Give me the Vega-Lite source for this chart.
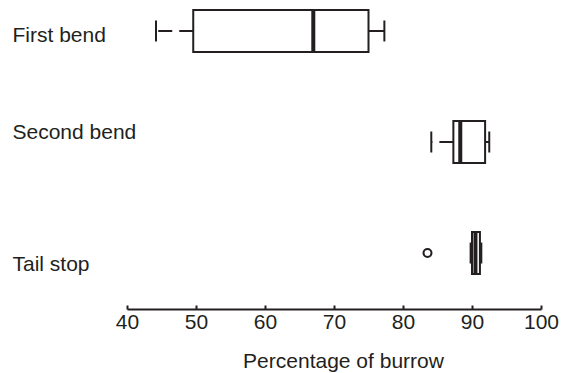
{
  "$schema": "https://vega.github.io/schema/vega-lite/v6.json",
  "width": 414,
  "height": 284,
  "autosize": {"type": "none"},
  "padding": {"left": 127, "top": 0, "right": 28, "bottom": 89},
  "background": "white",
  "config": {"view": {"stroke": null}, "font": "Liberation Sans"},
  "datasets": {
    "boxes": [
      {"group": "First bend", "min": 44.2, "q1": 49.6, "median": 67.0, "q3": 75.0, "max": 77.3},
      {"group": "Second bend", "min": 84.1, "q1": 87.3, "median": 88.3, "q3": 91.9, "max": 92.5},
      {"group": "Tail stop", "min": 89.8, "q1": 90.0, "median": 90.5, "q3": 91.15, "max": 91.35}
    ],
    "outliers": [
      {"group": "Tail stop", "value": 83.55}
    ]
  },
  "encoding": {
    "y": {
      "field": "group",
      "type": "nominal",
      "title": null,
      "scale": {"type": "point", "padding": 0.279, "domain": ["First bend", "Second bend", "Tail stop"]},
      "axis": {
        "domain": false,
        "ticks": false,
        "labelAlign": "left",
        "labelBaseline": "middle",
        "labelPadding": 115,
        "labelFontSize": 21,
        "labelColor": "#231f20",
        "labelLimit": 300,
        "labelOffset": {
          "condition": [
            {"test": "datum.value === 'Second bend'", "value": -10},
            {"test": "datum.value === 'Tail stop'", "value": 11}
          ],
          "value": 5
        }
      }
    }
  },
  "layer": [
    {
      "data": {"name": "boxes"},
      "mark": {"type": "rule", "color": "#231f20", "strokeWidth": 2, "strokeDash": [14, 7], "opacity": 1},
      "encoding": {
        "x": {
          "field": "q1",
          "type": "quantitative",
          "scale": {"domain": [40, 100], "nice": false, "zero": false},
          "axis": {
            "values": [40, 50, 60, 70, 80, 90, 100],
            "offset": 25,
            "domainColor": "#231f20",
            "domainWidth": 2,
            "tickColor": "#231f20",
            "tickWidth": 2,
            "tickSize": -4,
            "labelPadding": 6,
            "labelFontSize": 21,
            "labelColor": "#231f20",
            "labelFlush": false,
            "grid": false,
            "title": "Percentage of burrow",
            "titleFontSize": 21,
            "titleFontWeight": "normal",
            "titleColor": "#231f20",
            "titlePadding": 18,
            "titleX": 216,
            "titleAlign": "center"
          }
        },
        "x2": {"field": "min"}
      }
    },
    {
      "data": {"name": "boxes"},
      "mark": {"type": "rule", "color": "#231f20", "strokeWidth": 2, "opacity": 1},
      "encoding": {
        "x": {"field": "q3", "type": "quantitative"},
        "x2": {"field": "max"}
      }
    },
    {
      "data": {"name": "boxes"},
      "mark": {"type": "tick", "color": "#231f20", "size": 21, "thickness": 2, "orient": "vertical", "opacity": 1},
      "encoding": {
        "x": {"field": "min", "type": "quantitative"}
      }
    },
    {
      "data": {"name": "boxes"},
      "mark": {"type": "tick", "color": "#231f20", "size": 21, "thickness": 2, "orient": "vertical", "opacity": 1},
      "encoding": {
        "x": {"field": "max", "type": "quantitative"}
      }
    },
    {
      "data": {"name": "boxes"},
      "mark": {"type": "bar", "size": 42, "fill": "white", "stroke": "#231f20", "strokeWidth": 2, "opacity": 1},
      "encoding": {
        "x": {"field": "q1", "type": "quantitative"},
        "x2": {"field": "q3"}
      }
    },
    {
      "data": {"name": "boxes"},
      "mark": {"type": "tick", "color": "#231f20", "size": 42, "thickness": 4, "orient": "vertical", "opacity": 1},
      "encoding": {
        "x": {"field": "median", "type": "quantitative"}
      }
    },
    {
      "data": {"name": "outliers"},
      "mark": {"type": "point", "shape": "circle", "filled": false, "stroke": "#231f20", "strokeWidth": 2, "size": 64, "opacity": 1},
      "encoding": {
        "x": {"field": "value", "type": "quantitative"}
      }
    }
  ]
}
